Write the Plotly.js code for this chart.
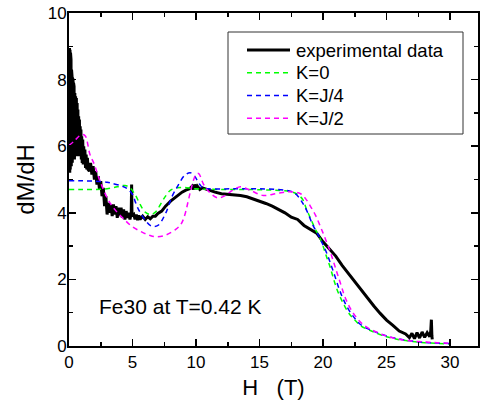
<!DOCTYPE html>
<html>
<head>
<meta charset="utf-8">
<script src="https://cdn.plot.ly/plotly-3.0.1.min.js"></script>
<style>html,body{margin:0;padding:0;background:#fff;}#chart{width:480px;height:404px;}</style>
</head>
<body>
<div id="chart"></div>
<script>
// Experimental data (black, noisy at low field)
var expH = [0.02,0.04,0.06,0.08,0.10,0.12,0.14,0.16,0.18,0.20,0.22,0.24,0.26,0.28,0.30,0.32,0.34,0.36,0.38,0.40,0.43,0.46,0.49,0.52,0.55,0.58,0.61,0.64,0.67,0.70,0.73,0.76,0.79,0.82,0.85,0.88,0.91,0.94,0.97,1.00,1.04,1.08,1.12,1.16,1.20,1.25,1.30,1.35,1.40,1.45,1.50,1.6,1.7,1.8,1.9,2.0,2.1,2.2,2.3,2.4,2.5,2.6,2.7,2.8,2.9,3.0,3.1,3.2,3.3,3.4,3.5,3.6,3.7,3.8,3.9,4.0,4.1,4.2,4.3,4.4,4.5,4.6,4.7,4.8,4.9,4.93,4.96,5.1,5.2,5.3,5.4,5.5,5.6,5.8,6.0,6.2,6.4,6.6,6.8,7.0,7.3,7.6,8.0,8.3,8.6,8.9,9.2,9.5,9.7,9.8,9.9,10.0,10.1,10.3,10.5,11.0,11.5,12.0,12.5,13.0,13.5,14.0,14.5,15.0,15.5,16.0,16.5,17.0,17.5,18.0,18.5,19.0,19.5,20.0,20.5,21.0,21.5,22.0,22.5,23.0,23.5,24.0,24.5,25.0,25.5,26.0,26.5,26.8,27.0,27.2,27.4,27.6,27.8,28.0,28.2,28.4,28.48,28.53,28.57,28.6];
var expV = [6.0,8.95,5.2,8.9,5.3,8.8,5.5,8.6,5.4,8.3,5.6,8.1,5.5,8.05,5.7,8.0,5.6,7.9,5.7,7.8,5.6,7.6,5.8,7.5,5.7,7.45,5.8,7.3,5.9,7.1,5.7,6.9,5.8,6.8,5.7,6.6,5.8,6.5,5.6,6.3,5.5,6.2,5.45,6.0,5.5,5.9,5.35,5.75,5.3,5.65,5.3,5.25,5.5,5.15,5.4,5.0,5.25,4.85,5.1,4.7,4.95,4.5,4.75,4.2,4.5,3.95,4.3,4.0,4.25,3.9,4.25,3.95,4.2,3.85,4.15,3.9,4.15,3.85,4.1,3.8,4.05,3.85,4.0,3.8,4.0,4.85,3.9,3.95,3.8,3.95,3.78,3.92,3.8,3.9,3.8,3.88,3.82,3.9,3.9,3.98,4.05,4.2,4.35,4.45,4.55,4.62,4.68,4.72,4.8,4.7,4.85,4.72,4.8,4.7,4.75,4.68,4.62,4.57,4.55,4.55,4.52,4.48,4.42,4.35,4.28,4.2,4.1,4.0,3.87,3.8,3.62,3.5,3.39,3.13,2.92,2.7,2.42,2.17,1.93,1.67,1.43,1.2,0.98,0.78,0.62,0.45,0.36,0.25,0.38,0.22,0.4,0.24,0.42,0.26,0.4,0.28,0.45,0.79,0.3,0.2];

// Model curves
var k0H = [0,1,2,3,3.8,4.4,4.8,5.2,5.6,6.0,6.4,6.8,7.2,7.6,8.0,8.5,9,10,12,14,16,17,17.6,18.0,18.4,18.7,19.0,19.4,19.75,20.0,20.3,20.55,20.8,21.1,21.5,22.0,22.5,23.0,24,25,26,27,28,29,30];
var k0V = [4.7,4.7,4.7,4.72,4.78,4.82,4.75,4.55,4.25,4.02,3.95,4.02,4.25,4.5,4.68,4.75,4.76,4.72,4.7,4.7,4.68,4.66,4.62,4.55,4.4,4.1,3.85,3.5,3.25,3.0,2.65,2.38,2.05,1.7,1.35,1.0,0.78,0.6,0.42,0.28,0.19,0.14,0.1,0.08,0.06];

var kq4H = [0,1,2,3,3.4,4.2,4.6,5.0,5.25,5.5,6.0,6.5,7.0,7.6,8.1,8.6,9.1,9.55,9.9,10.2,10.55,11,13,15,17,17.5,17.9,18.3,18.7,19.2,19.6,19.9,20.3,20.68,21.0,21.3,21.6,22.0,22.5,22.9,23.5,24,25,26,27,28,29,30];
var kq4V = [4.96,4.96,4.95,4.92,4.88,4.8,4.72,4.55,4.3,4.08,3.78,3.6,3.62,3.98,4.48,4.83,5.12,5.2,5.1,4.9,4.75,4.72,4.72,4.72,4.68,4.64,4.55,4.35,4.08,3.63,3.35,3.12,2.78,2.38,2.02,1.68,1.4,1.1,0.83,0.66,0.52,0.44,0.3,0.21,0.15,0.11,0.09,0.07];

var kq2H = [0,0.4,0.8,1.1,1.3,1.65,2.0,2.3,2.6,3.1,3.65,4.4,5.0,5.75,6.3,6.8,7.6,8.4,8.8,9.0,9.2,9.4,9.6,9.8,10.0,10.2,10.6,11.1,11.7,12.2,12.7,13.5,14.25,15.3,16.35,17.4,18.2,18.6,19.0,19.4,19.8,20.2,20.55,20.85,21.1,21.4,21.7,22.05,22.5,23.0,23.5,24.2,25,26,27,28,29,30];
var kq2V = [6.02,6.15,6.3,6.35,6.3,5.75,5.45,5.1,4.8,4.38,4.08,3.78,3.58,3.42,3.33,3.28,3.33,3.5,3.65,3.8,4.05,4.38,4.7,4.98,5.15,5.18,4.85,4.6,4.45,4.5,4.63,4.78,4.68,4.52,4.58,4.63,4.58,4.44,4.2,3.93,3.58,3.2,2.85,2.5,2.2,1.85,1.5,1.2,0.92,0.7,0.55,0.42,0.3,0.2,0.15,0.12,0.1,0.08];

var names = ["experimental data","K=0","K=J/4","K=J/2"];
var colors = ["#000000","#00ff00","#0000ff","#ff00ff"];
var fontFam = "Liberation Sans, Arial, sans-serif";
var DASH = "5px,4px";

var traces = [
  {x: expH, y: expV, name: names[0], mode: "lines", showlegend: false, line: {color: colors[0], width: 3}},
  {x: k0H, y: k0V, name: names[1], mode: "lines", showlegend: false, line: {color: colors[1], width: 1.5, dash: DASH, shape: "spline"}},
  {x: kq4H, y: kq4V, name: names[2], mode: "lines", showlegend: false, line: {color: colors[2], width: 1.5, dash: DASH, shape: "spline"}},
  {x: kq2H, y: kq2V, name: names[3], mode: "lines", showlegend: false, line: {color: colors[3], width: 1.5, dash: DASH, shape: "spline"}}
];

// Plot-area geometry for the hand-built legend (pixel -> paper)
var M = {l: 69, r: 2, t: 13, b: 58}, W = 480, H = 404;
var pw = W - M.l - M.r, ph = H - M.t - M.b;
function px(x) { return (x - M.l) / pw; }
function py(y) { return (H - M.b - y) / ph; }

var shapes = [{
  type: "rect", xref: "paper", yref: "paper",
  x0: px(228), x1: px(463), y0: py(134), y1: py(32),
  line: {color: "#333333", width: 1}, fillcolor: "#ffffff", layer: "above"
}];
var annotations = [{
  x: 2.2, y: 1.2, xref: "x", yref: "y", xanchor: "left", yanchor: "middle",
  text: "Fe30 at T=0.42 K", showarrow: false,
  font: {size: 21, family: fontFam, color: "#000"}
}];
var rowY = [50, 72.7, 95.5, 118.3];
for (var i = 0; i < names.length; i++) {
  shapes.push({
    type: "line", xref: "paper", yref: "paper",
    x0: px(247), x1: px(290), y0: py(rowY[i]), y1: py(rowY[i]),
    line: {color: colors[i], width: i === 0 ? 3 : 1.5, dash: i === 0 ? "solid" : DASH}, layer: "above"
  });
  annotations.push({
    xref: "paper", yref: "paper", x: px(294), y: py(rowY[i]),
    xanchor: "left", yanchor: "middle", showarrow: false, text: names[i],
    font: {size: 18.5, family: fontFam, color: "#000"}
  });
}

var layout = {
  width: W, height: H,
  margin: {l: M.l, r: M.r, t: M.t, b: M.b, pad: 0},
  paper_bgcolor: "#ffffff", plot_bgcolor: "#ffffff",
  font: {family: fontFam, color: "#000000", size: 16},
  showlegend: false,
  xaxis: {
    range: [0, 32.2], tick0: 0, dtick: 5, ticks: "inside", ticklen: 7, tickwidth: 1.5,
    tickcolor: "#000", showline: true, linecolor: "#000", linewidth: 2, mirror: "ticks",
    showgrid: false, zeroline: false,
    tickfont: {size: 17, family: fontFam, color: "#000"},
    minor: {dtick: 2.5, ticks: "inside", ticklen: 4, tickwidth: 1.5, tickcolor: "#000", showgrid: false},
    title: {text: "H\u00a0\u00a0\u00a0(T)", font: {size: 22, family: fontFam, color: "#000"}, standoff: 8}
  },
  yaxis: {
    range: [0, 10], tick0: 0, dtick: 2, ticks: "inside", ticklen: 7, tickwidth: 1.5,
    tickcolor: "#000", showline: true, linecolor: "#000", linewidth: 2, mirror: "ticks",
    showgrid: false, zeroline: false, ticklabelstandoff: -3,
    tickfont: {size: 17, family: fontFam, color: "#000"},
    minor: {dtick: 1, ticks: "inside", ticklen: 4, tickwidth: 1.5, tickcolor: "#000", showgrid: false},
    title: {text: "dM/dH", font: {size: 24, family: fontFam, color: "#000"}, standoff: 6}
  },
  shapes: shapes,
  annotations: annotations
};

Plotly.newPlot("chart", traces, layout, {displayModeBar: false, staticPlot: true});
</script>
</body>
</html>
